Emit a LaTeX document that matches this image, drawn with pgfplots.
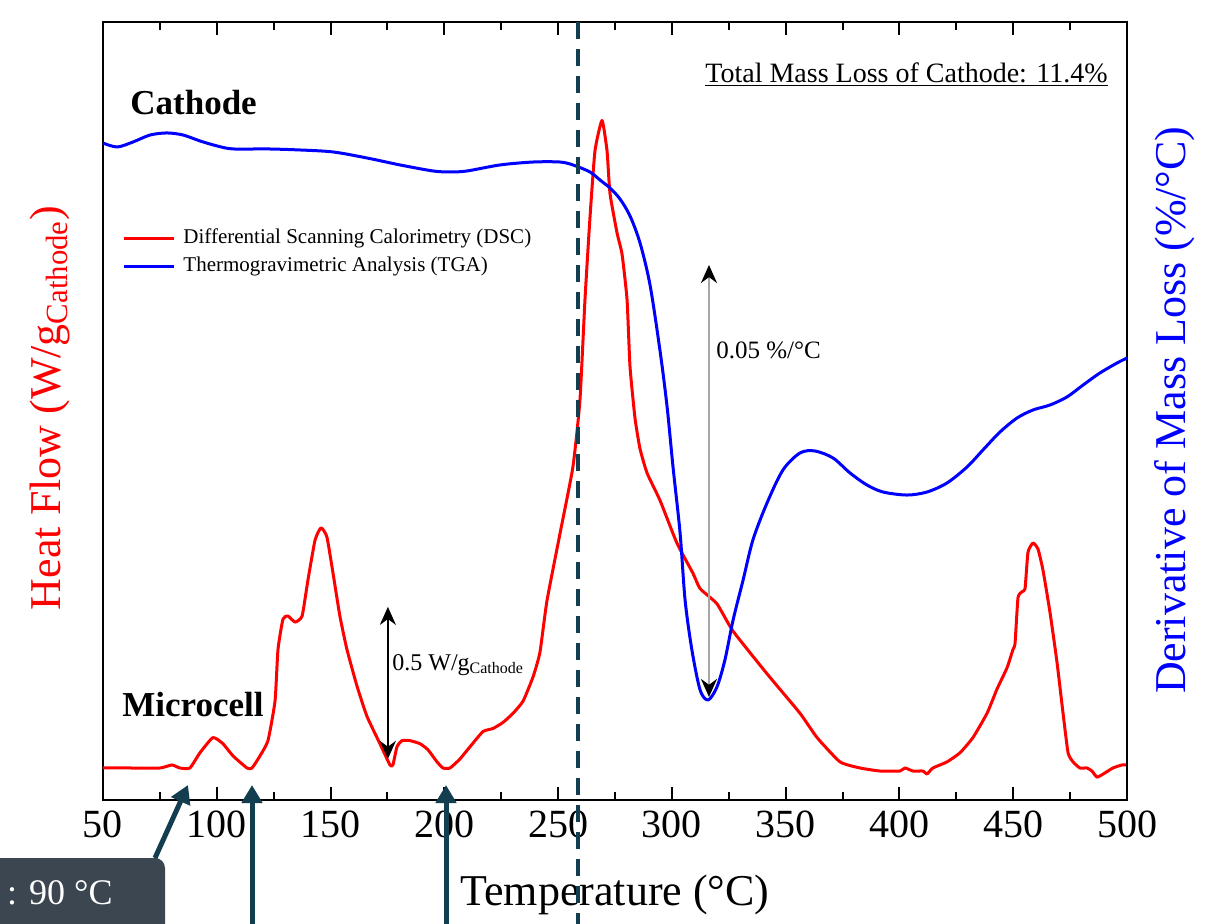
\documentclass[border=0pt]{standalone}
\usepackage{fontspec}
\setmainfont{Liberation Serif}
\usepackage{pgfplots}
\pgfplotsset{compat=1.18}
\usepackage{pgfplotstable}
\usetikzlibrary{arrows.meta}

\definecolor{dsc}{RGB}{255,0,0}
\definecolor{tga}{RGB}{0,0,255}
\definecolor{marker}{RGB}{18,62,80}
\definecolor{callout}{RGB}{60,70,80}

% DSC heat flow, W/g (cathode)
\pgfplotstableread{
T HF
50.0 0.00
61.9 0.00
75.0 0.00
80.3 0.01
83.8 0.00
88.2 0.00
92.6 0.05
98.3 0.10
102.7 0.08
107.1 0.04
113.3 0.00
115.5 0.00
119.0 0.04
122.5 0.09
125.6 0.22
126.9 0.39
129.1 0.49
131.3 0.50
134.4 0.48
137.5 0.50
140.1 0.62
143.2 0.75
145.8 0.79
148.4 0.76
151.1 0.64
154.1 0.50
157.2 0.39
161.6 0.27
166.0 0.17
171.7 0.08
176.1 0.01
177.4 0.01
179.2 0.07
181.4 0.09
184.9 0.09
189.3 0.08
192.8 0.06
196.8 0.02
199.4 0.00
202.5 0.00
206.9 0.03
211.3 0.07
217.0 0.12
221.4 0.13
225.8 0.15
230.2 0.18
234.6 0.22
239.0 0.30
242.0 0.38
245.1 0.55
250.8 0.77
256.5 0.99
259.6 1.21
261.8 1.54
264.0 1.81
266.2 2.03
269.3 2.13
271.5 2.03
272.8 1.89
275.9 1.76
278.1 1.69
280.3 1.54
281.6 1.32
283.8 1.15
286.0 1.05
289.1 0.97
294.8 0.88
302.2 0.74
309.3 0.64
312.4 0.59
319.8 0.54
326.9 0.45
341.8 0.31
356.3 0.18
363.8 0.10
373.9 0.02
382.7 0.00
391.5 -0.01
400.2 -0.01
402.4 0.00
406.0 -0.01
410.4 -0.01
412.1 -0.02
414.7 0.00
420.9 0.02
426.6 0.05
432.3 0.10
438.5 0.18
442.9 0.26
447.3 0.33
449.9 0.39
450.8 0.41
452.1 0.56
453.9 0.58
455.2 0.59
456.5 0.71
458.7 0.74
460.9 0.72
463.1 0.65
466.2 0.51
469.2 0.35
471.9 0.18
474.1 0.05
476.3 0.02
479.3 0.00
482.4 0.00
484.6 -0.01
486.8 -0.03
489.5 -0.02
493.8 0.00
497.8 0.01
500.0 0.01
}\dscdata

% TGA derivative of mass loss, %/C
\pgfplotstableread{
T DM
50.0 0.00081
56.2 0.00035
63.2 0.00093
70.7 0.00174
78.1 0.00198
85.2 0.00174
92.6 0.00105
100.1 0.00047
107.1 0.00012
122.1 0.00012
136.6 0.00000
151.1 -0.00023
166.0 -0.00093
180.5 -0.00174
195.0 -0.00244
202.5 -0.00256
210.0 -0.00244
224.5 -0.00174
239.0 -0.00140
250.8 -0.00140
256.5 -0.00174
264.0 -0.00256
268.4 -0.00349
272.8 -0.00442
277.2 -0.00570
281.6 -0.00767
286.0 -0.01081
290.4 -0.01570
294.8 -0.02337
297.9 -0.02988
300.5 -0.03686
303.6 -0.04453
305.8 -0.05233
308.8 -0.05814
312.4 -0.06279
315.9 -0.06395
319.8 -0.06244
323.3 -0.05930
326.9 -0.05465
331.3 -0.05000
335.6 -0.04535
341.8 -0.04105
348.8 -0.03721
356.3 -0.03523
362.9 -0.03500
370.8 -0.03581
378.3 -0.03756
385.7 -0.03895
392.8 -0.03977
403.3 -0.04012
412.1 -0.03977
420.9 -0.03872
429.7 -0.03686
436.7 -0.03488
444.2 -0.03279
451.7 -0.03116
458.7 -0.03023
466.2 -0.02965
473.6 -0.02872
480.7 -0.02733
488.1 -0.02593
495.6 -0.02477
500.0 -0.02419
}\tgadata

\begin{document}
\begin{tikzpicture}
\pgfplotsset{
  every axis/.append style={
    scale only axis, width=512pt, height=389pt,
    xmin=50, xmax=500, clip=false,
    axis line style={line width=1pt},
  },
}
\begin{axis}[
  ymin=-0.1053, ymax=2.4539,
  ytick=\empty,
  xtick={50,100,...,500},
  minor x tick num=1,
  tick align=inside,
  xtick pos=both,
  major tick length=6.5pt, minor tick length=4pt,
  every tick/.style={black, line width=1pt},
  /pgf/number format/assume math mode=true,
  ticklabel style={font=\fontsize{20}{24}\selectfont},
  xticklabel style={yshift=-2pt},
  xlabel={Temperature (°C)},
  xlabel style={font=\fontsize{22}{26}\selectfont, at={(axis description cs:0.5,0)}, anchor=center, yshift=-47.5pt},
  ylabel={Heat Flow (W/g\textsubscript{Cathode})},
  ylabel style={font=\fontsize{22}{26}\selectfont, text=dsc, at={(axis description cs:-0.0518,0.504)}, anchor=center},
]
\addplot[dsc, line width=1.5pt, line join=round, smooth, tension=0.3] table {\dscdata};
\draw[black, line width=1pt, {Stealth[length=9pt,width=8pt]}-{Stealth[length=9pt,width=8pt]}]
  (axis cs:175.2,0.03) -- (axis cs:175.2,0.53);
\node[anchor=west, inner sep=0pt, font=\fontsize{12}{14}\selectfont]
  at (axis cs:177,0.34) {0.5 W/g\textsubscript{Cathode}};
\end{axis}

\begin{axis}[
  ymin=-0.07558, ymax=0.01488,
  hide x axis,
  axis y line*=right,
  ytick=\empty,
  ylabel={Derivative of Mass Loss (\%/°C)},
  ylabel style={font=\fontsize{22}{26}\selectfont, text=tga, at={(axis description cs:1.047,0.501)}, anchor=center},
  legend style={at={(axis description cs:0.0186,0.735)}, anchor=north west, draw=none, fill=none,
    inner sep=0pt, row sep=4pt, font=\fontsize{10.5}{12}\selectfont,
    nodes={inner sep=0pt, text height=7.5pt, text depth=2.5pt}},
  legend cell align=left,
  legend image code/.code={\draw[#1] (0pt,0pt) -- (25pt,0pt);},
]
\addlegendimage{dsc, line width=1.5pt}
\addlegendentry{\hspace{4pt}Differential Scanning Calorimetry (DSC)}
\addplot[tga, line width=1.5pt, line join=round, smooth, tension=0.5] table {\tgadata};
\addlegendentry{\hspace{4pt}Thermogravimetric Analysis (TGA)}
\draw[gray!70, line width=1.2pt, {Stealth[black,length=9pt,width=8pt]}-{Stealth[black,length=9pt,width=8pt]}]
  (axis cs:316.3,-0.01337) -- (axis cs:316.3,-0.0636);
\node[anchor=west, inner sep=0pt, font=\fontsize{12.5}{14}\selectfont]
  at (axis cs:319.4,-0.02326) {0.05 \%/°C};
\end{axis}

% labels, marker line and the cropped callout
\node[anchor=west, inner sep=0pt, font=\bfseries\fontsize{17.5}{20}\selectfont] at (13.5pt,348.5pt) {Cathode};
\node[anchor=west, inner sep=0pt, font=\bfseries\fontsize{17.5}{20}\selectfont] at (9.5pt,47.5pt) {Microcell};
\node[anchor=east, inner sep=0pt, font=\fontsize{14}{16}\selectfont] at (502.5pt,362.5pt)
  {\underline{Total Mass Loss of Cathode: 11.4\%}};
\draw[marker, line width=2pt, dash pattern=on 8.5pt off 5pt] (237.5pt,389pt) -- (237.5pt,-75pt);
\fill[callout, rounded corners=5pt] (-60pt,-80pt) rectangle (31pt,-29pt);
\node[anchor=east, inner sep=0pt, text=white, font=\fontsize{18}{20}\selectfont] at (5pt,-46.5pt) {: 90 °C};
\draw[marker, line width=2.5pt, -{Triangle[length=9pt,width=10pt]}] (26pt,-29pt) -- (42.5pt,7.5pt);
\draw[marker, line width=2.5pt, -{Triangle[length=9pt,width=10pt]}] (74.5pt,-80pt) -- (74.5pt,7.5pt);
\draw[marker, line width=2.5pt, -{Triangle[length=9pt,width=10pt]}] (171.5pt,-80pt) -- (171.5pt,7.5pt);
\pgfresetboundingbox
\useasboundingbox (-51.5pt,-61.5pt) rectangle (551.5pt,400pt);
\end{tikzpicture}
\end{document}
